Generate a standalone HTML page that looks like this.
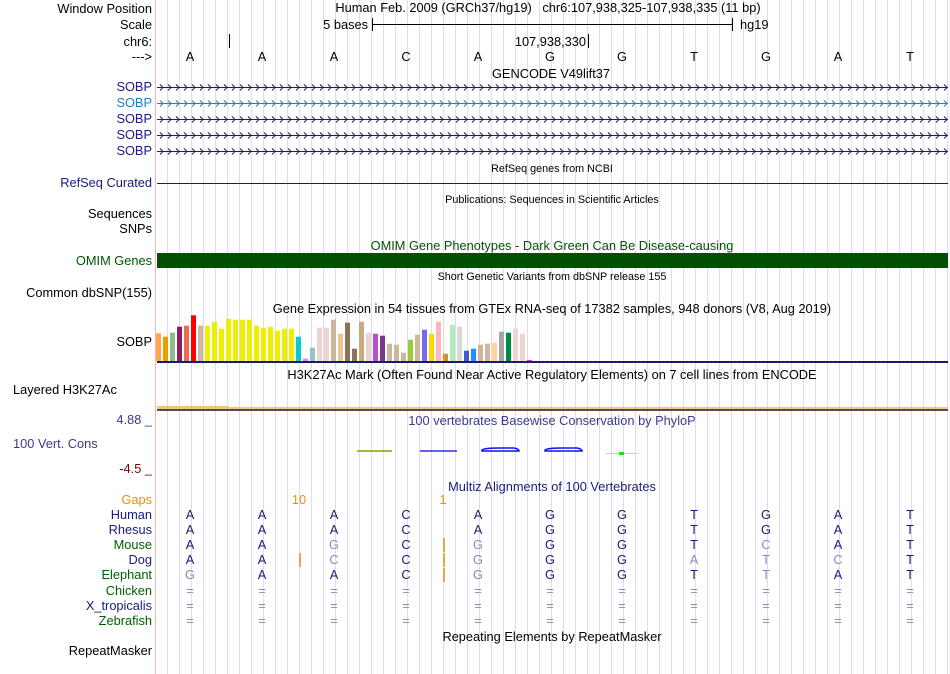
<!DOCTYPE html>
<html><head><meta charset="utf-8"><style>
body{margin:0;background:#fff}
svg{display:block;font-family:"Liberation Sans",sans-serif}
</style></head><body>
<svg id="s" width="950" height="674" viewBox="0 0 950 674">
<g id="grid"></g>
<line x1="155.5" y1="0" x2="155.5" y2="674" stroke="#ffb0b0"/>
<g font-size="12.8" text-anchor="end">
<text x="152" y="13">Window Position</text>
<text x="152" y="29">Scale</text>
<text x="152" y="46">chr6:</text>
<text x="152" y="61">---&gt;</text>
<text x="152" y="91" fill="#1a1a80">SOBP</text>
<text x="152" y="107" fill="#1f7fbf">SOBP</text>
<text x="152" y="123" fill="#1a1a80">SOBP</text>
<text x="152" y="139" fill="#1a1a80">SOBP</text>
<text x="152" y="155" fill="#1a1a80">SOBP</text>
<text x="152" y="187" fill="#1a1a80">RefSeq Curated</text>
<text x="152" y="218">Sequences</text>
<text x="152" y="233">SNPs</text>
<text x="152" y="265" fill="#005500">OMIM Genes</text>
<text x="152" y="297">Common dbSNP(155)</text>
<text x="152" y="346">SOBP</text>
<text x="13" y="394" text-anchor="start">Layered H3K27Ac</text>
<text x="152" y="424" fill="#3a3a90">4.88 _</text>
<text x="13" y="448" text-anchor="start" fill="#3a3a90">100 Vert. Cons</text>
<text x="152" y="473" fill="#800000">-4.5 _</text>
<text x="152" y="504" fill="#e8900c">Gaps</text>
<text x="152" y="519" fill="#1a1a80">Human</text>
<text x="152" y="534" fill="#1a1a80">Rhesus</text>
<text x="152" y="549" fill="#006000">Mouse</text>
<text x="152" y="564" fill="#1a1a80">Dog</text>
<text x="152" y="579" fill="#006000">Elephant</text>
<text x="152" y="595" fill="#006000">Chicken</text>
<text x="152" y="610" fill="#1a1a80">X_tropicalis</text>
<text x="152" y="625" fill="#006000">Zebrafish</text>
<text x="152" y="655">RepeatMasker</text>
</g>
<g font-size="12.8" text-anchor="middle">
<text x="548" y="12">Human Feb. 2009 (GRCh37/hg19)&#160;&#160;&#160;chr6:107,938,325-107,938,335 (11 bp)</text>
<text x="551" y="78">GENCODE V49lift37</text>
<text x="552" y="250" fill="#005500">OMIM Gene Phenotypes - Dark Green Can Be Disease-causing</text>
<text x="552" y="313">Gene Expression in 54 tissues from GTEx RNA-seq of 17382 samples, 948 donors (V8, Aug 2019)</text>
<text x="552" y="379">H3K27Ac Mark (Often Found Near Active Regulatory Elements) on 7 cell lines from ENCODE</text>
<text x="552" y="425" fill="#3a3a90">100 vertebrates Basewise Conservation by PhyloP</text>
<text x="552" y="491" fill="#1a1a80">Multiz Alignments of 100 Vertebrates</text>
<text x="552" y="641">Repeating Elements by RepeatMasker</text>
</g>
<g font-size="10.8" text-anchor="middle">
<text x="552" y="172">RefSeq genes from NCBI</text>
<text x="552" y="203">Publications: Sequences in Scientific Articles</text>
<text x="552" y="280">Short Genetic Variants from dbSNP release 155</text>
</g>
<g font-size="12.8">
<text x="368" y="29" text-anchor="end">5 bases</text>
<line x1="372.5" y1="24.5" x2="732.5" y2="24.5" stroke="#000"/>
<line x1="372.5" y1="18" x2="372.5" y2="31" stroke="#000"/>
<line x1="732.5" y1="18" x2="732.5" y2="31" stroke="#000"/>
<text x="740" y="29">hg19</text>
<line x1="229.5" y1="34" x2="229.5" y2="48" stroke="#000"/>
<line x1="588.5" y1="34" x2="588.5" y2="48" stroke="#000"/>
<text x="586" y="46" text-anchor="end">107,938,330</text>
</g>
<g id="bases" font-size="12.8" text-anchor="middle"></g>
<g id="genes"></g>
<line x1="157" y1="183.5" x2="948" y2="183.5" stroke="#1a1a80"/>
<rect x="157" y="253" width="791" height="15" fill="#005000"/>
<g id="gtex"></g>
<line x1="157" y1="362" x2="948" y2="362" stroke="#1a1a6e" stroke-width="2"/>
<rect x="157" y="406" width="72" height="3" fill="#f3c27a"/>
<rect x="157" y="407" width="791" height="2" fill="#f5c580"/>
<line x1="157" y1="410" x2="948" y2="410" stroke="#201010" stroke-width="1.5"/>
<g>
<path d="M357 451 L392 451" stroke="#b0b040" stroke-width="2"/>
<path d="M420 451 L457 451" stroke="#3030e0" stroke-width="1.5"/>
<path d="M482 450 Q484 448 500 448 L514 448 Q519 449 519 451 L482 451 Z" fill="none" stroke="#1010f0" stroke-width="1.5"/>
<path d="M545 450 Q547 448 563 448 L577 448 Q582 449 582 451 L545 451 Z" fill="none" stroke="#1010f0" stroke-width="1.5"/>
<path d="M606 453.5 L638 453.5" stroke="#a0f0a0" stroke-width="1"/>
<rect x="619" y="452" width="5" height="3" fill="#20e020"/>
</g>
<g font-size="12.8" fill="#e8900c" text-anchor="middle">
<text x="299" y="504">10</text><text x="443" y="504">1</text>
</g>
<g stroke="#e8900c" stroke-width="1.5">
<line x1="444" y1="538" x2="444" y2="552"/><line x1="300" y1="553" x2="300" y2="567"/><line x1="444" y1="553" x2="444" y2="567"/><line x1="444" y1="568" x2="444" y2="582"/>
</g>
<g id="multiz" font-size="12.8" text-anchor="middle"></g>
</svg>
<script>
const NS='http://www.w3.org/2000/svg';
const seq=['A','A','A','C','A','G','G','T','G','A','T'];
const mouse='AAGCGGGTCAT', dog='AACCGGGATCT', eleph='GAACGGGTTAT';
const gtexValues=[27.7,24.3,28.3,34.3,35.3,45.7,35.3,35.3,39.3,32.3,42.3,41.3,41.3,41.3,35.3,33.3,34.3,30.3,32.3,32.3,24.3,2.3,13.3,33.3,33.3,41.3,27.3,38.3,12.3,39.3,28.3,27.3,25.3,17.3,16.3,8.3,21.3,26.3,31.3,27.3,39.3,7.3,36.3,34.3,10.3,12.3,16.3,17.3,18.3,29.3,28.3,32.3,27.3,0.9];
const gtexColors=['#FFA54F','#EE9A00','#8FBC8F','#8B1C62','#EE6A50','#FF0000','#CDB79E','#EEEE00','#EEEE00','#EEEE00','#EEEE00','#EEEE00','#EEEE00','#EEEE00','#EEEE00','#EEEE00','#EEEE00','#EEEE00','#EEEE00','#EEEE00','#00CED1','#EE82EE','#9AC0CD','#EED5D2','#EED5D2','#CDB79E','#EEC591','#8B7355','#8B7355','#CDAA7D','#EED5D2','#B452CD','#7A378B','#CDB79E','#CDB79E','#CDB79E','#9ACD32','#CDB79E','#7A67EE','#FFD700','#FFB6C1','#CD9B1D','#B4EEB4','#D9D9D9','#3A5FCD','#1E90FF','#CDB79E','#CDB79E','#FFD39B','#A6A6A6','#008B45','#EED5D2','#EED5D2','#FF00FF'];
function mk(t,a,p){const e=document.createElementNS(NS,t);for(const k in a)e.setAttribute(k,a[k]);p.appendChild(e);return e;}
const bx=i=>190+72*i;
const g=document.getElementById('grid');
for(let x=167;x<=947;x+=12){const l=mk('line',{x1:x+.5,y1:0,x2:x+.5,y2:674,stroke:'#dcdcf8'},g);

}
const bg=document.getElementById('bases');
seq.forEach((b,i)=>{const t=mk('text',{x:bx(i),y:61},bg);t.textContent=b;

});
const gg=document.getElementById('genes');
[87,103,119,135,151].forEach((y,k)=>{const c=k==1?'#1f7fbf':'#1a1a80';
let d='M157 '+(y+.5)+' L948 '+(y+.5);
for(let x=160;x<946;x+=8)d+=' M'+x+' '+(y-2.5)+' L'+(x+3)+' '+(y+.5)+' L'+x+' '+(y+3.5);
const p=mk('path',{d:d,stroke:c,fill:'none','stroke-width':1},gg);

});
const gt=document.getElementById('gtex');
const ys=v=>361-v;
gtexValues.forEach((v,i)=>{const r=mk('rect',{x:156+7*i,y:ys(v),width:5,height:v,fill:gtexColors[i]},gt);

});
const mz=document.getElementById('multiz');
const rows=[[seq.join(''),519],[seq.join(''),534],[mouse,549],[dog,564],[eleph,579]];
rows.forEach(r=>{for(let i=0;i<11;i++){const ch=r[0][i];const same=ch===seq[i];
const t=mk('text',{x:bx(i),y:r[1],fill:same?'#1a1a80':'#8a8ab8'},mz);t.textContent=ch;

}});
[595,610,625].forEach(y=>{for(let i=0;i<11;i++){const t=mk('text',{x:bx(i),y:y,fill:'#8a8ab8'},mz);t.textContent='=';

}});
</script>
</body></html>
